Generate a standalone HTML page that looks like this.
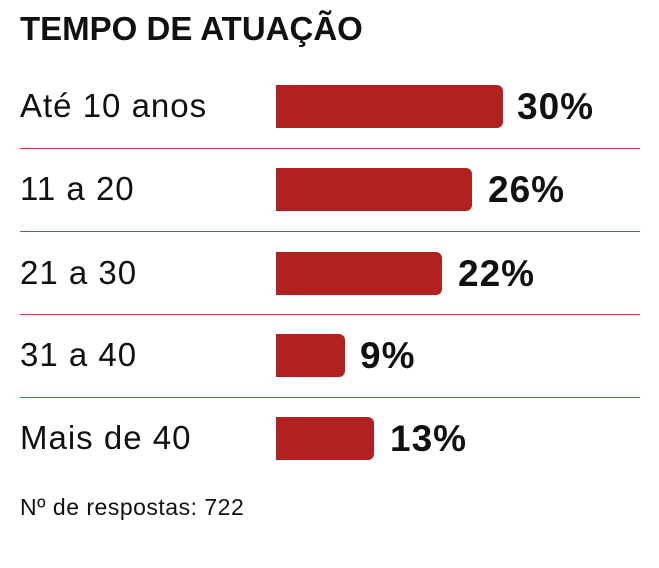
<!DOCTYPE html>
<html><head><meta charset="utf-8"><style>
body{margin:0;width:659px;height:568px;background:#fff;position:relative;overflow:hidden;font-family:"Liberation Sans",sans-serif;color:#111}
.t{position:absolute;left:20px;top:9px;font-weight:bold;font-size:33px;letter-spacing:0px;line-height:40px}
.l{position:absolute;left:20px;font-size:33px;line-height:40px;letter-spacing:1px}
.b{position:absolute;left:276px;height:43px;background:#b0211f;border-radius:0 6px 6px 0}
.p{position:absolute;font-weight:bold;font-size:37px;line-height:40px;letter-spacing:1px}
.h{position:absolute;left:20px;width:620px;height:0;border-top:1px solid #c64045}
.n{position:absolute;left:20px;top:492px;font-size:23px;line-height:30px;letter-spacing:0.5px}
</style></head><body>
<div class="t">TEMPO DE ATUAÇÃO</div>

<div class="l" style="top:86px">Até 10 anos</div>
<div class="b" style="top:85px;width:227px"></div>
<div class="p" style="left:517px;top:87px">30%</div>
<div class="h" style="top:148px"></div>

<div class="l" style="top:169px">11 a 20</div>
<div class="b" style="top:168px;width:196px"></div>
<div class="p" style="left:488px;top:170px">26%</div>
<div class="h" style="top:231px"></div>

<div class="l" style="top:253px">21 a 30</div>
<div class="b" style="top:252px;width:166px"></div>
<div class="p" style="left:458px;top:254px">22%</div>
<div class="h" style="top:314px"></div>

<div class="l" style="top:335px">31 a 40</div>
<div class="b" style="top:334px;width:69px"></div>
<div class="p" style="left:360px;top:336px">9%</div>
<div class="h" style="top:397px"></div>

<div class="l" style="top:418px">Mais de 40</div>
<div class="b" style="top:417px;width:98px"></div>
<div class="p" style="left:390px;top:419px">13%</div>

<div class="n">Nº de respostas: 722</div>
</body></html>
